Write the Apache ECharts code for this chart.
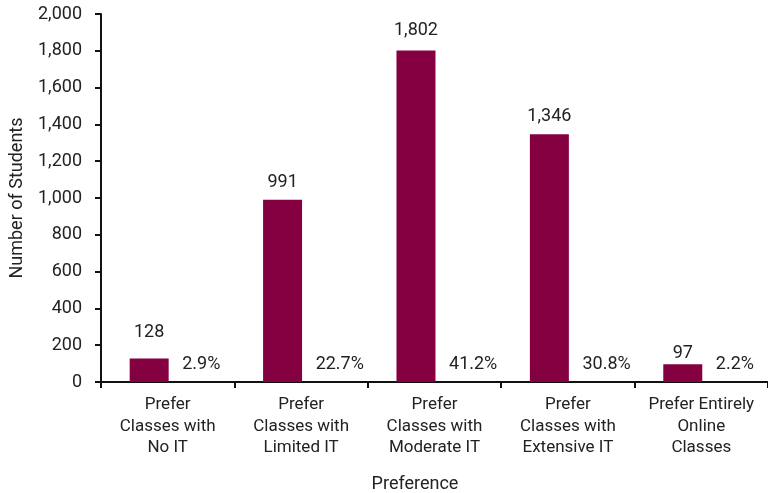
<!DOCTYPE html>
<html><head><meta charset="utf-8">
<script src="https://cdn.jsdelivr.net/npm/echarts@6/dist/echarts.min.js"></script>
<style>html,body{margin:0;padding:0;background:#fff}#c{width:768px;height:493px}</style>
</head><body><div id="c"></div>
<script>
const categories = ["Prefer\nClasses with\nNo IT","Prefer\nClasses with\nLimited IT","Prefer\nClasses with\nModerate IT","Prefer\nClasses with\nExtensive IT","Prefer Entirely\nOnline\nClasses"];
const students = [128, 991, 1802, 1346, 97];
const percents = ["2.9%","22.7%","41.2%","30.8%","2.2%"];
const yTicks = {min: 0, max: 2000, interval: 200};
// label gap above each bar (style only)
const labelGaps = [16.5, 8.5, 10.5, 8.5, 1.5];

const fmt = v => Number(v).toLocaleString('en-US');
const font = 'Roboto';
const chart = echarts.init(document.getElementById('c'));
chart.setOption({
  animation: false,
  grid: {left: 101, right: 0, top: 14, bottom: 111, containLabel: false, outerBoundsMode: 'none'},
  xAxis: {
    type: 'category', data: categories,
    name: 'Preference', nameLocation: 'middle', nameGap: 93,
    nameTextStyle: {fontFamily: font, fontSize: 18, color: '#222', padding: [0, 39, 0, 0]},
    axisLine: {lineStyle: {color: '#111', width: 2}},
    axisTick: {show: true, length: 6, lineStyle: {color: '#111', width: 2}},
    axisLabel: {fontFamily: font, fontSize: 17, color: '#222', lineHeight: 21.5, margin: 12, interval: 0}
  },
  yAxis: {
    type: 'value', min: yTicks.min, max: yTicks.max, interval: yTicks.interval,
    name: 'Number of Students', nameLocation: 'middle', nameGap: 75,
    nameTextStyle: {fontFamily: font, fontSize: 18, color: '#222'},
    axisLine: {show: true, lineStyle: {color: '#111', width: 2}},
    axisTick: {show: true, length: 6, lineStyle: {color: '#111', width: 2}},
    splitLine: {show: false},
    axisLabel: {fontFamily: font, fontSize: 18, color: '#222', margin: 19, formatter: v => fmt(v)}
  },
  series: [
    {
      type: 'bar', barWidth: 39, barGap: '-5%',
      data: students.map((v, i) => ({value: v, label: {distance: labelGaps[i]}})),
      itemStyle: {color: '#850040'},
      label: {show: true, position: 'top', fontFamily: font, fontSize: 18, color: '#222', formatter: p => fmt(p.value)}
    },
    {
      type: 'bar', data: students.map(() => 0), barWidth: 39,
      itemStyle: {color: 'transparent'},
      label: {show: true, position: 'top', distance: 9, align: 'left', offset: [-4, 0],
        fontFamily: font, fontSize: 18, color: '#222', formatter: p => percents[p.dataIndex]}
    }
  ]
});
</script></body></html>
